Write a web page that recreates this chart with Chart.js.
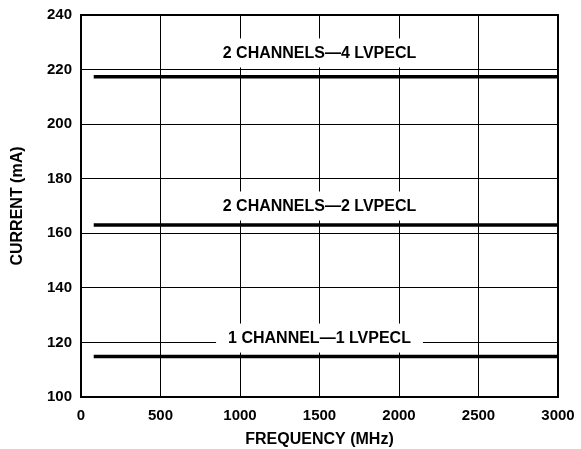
<!DOCTYPE html>
<html><head><meta charset="utf-8">
<script src="https://cdn.jsdelivr.net/npm/chart.js@4"></script>
<style>html,body{margin:0;padding:0;background:#fff;}#wrap{width:581px;height:449px;}</style>
</head><body><div id="wrap"><canvas id="c" width="581" height="449"></canvas></div>
<script>
const seriesNames = ["2 CHANNELS\u20144 LVPECL", "2 CHANNELS\u20142 LVPECL", "1 CHANNEL\u20141 LVPECL"];
const frequency = [80, 3000];
const current4 = [217.4, 217.4];
const current2 = [163.0, 163.0];
const current1 = [114.8, 114.8];
const labelX = [1500, 1500, 1500];
const labelY = [226.1, 170.0, 121.6];
const xTicks = [0, 500, 1000, 1500, 2000, 2500, 3000];
const yTicks = [100, 120, 140, 160, 180, 200, 220, 240];

const FONT = "'Liberation Sans', Arial, sans-serif";
const seriesValues = [current4, current2, current1];

const labelPlugin = {
  id: 'lineLabels',
  afterDatasetsDraw(chart) {
    const ctx = chart.ctx, xs = chart.scales.x, ys = chart.scales.y;
    ctx.save();
    ctx.font = "bold 16px " + FONT;
    ctx.textAlign = 'center';
    ctx.textBaseline = 'middle';
    seriesNames.forEach((name, i) => {
      const cx = xs.getPixelForValue(labelX[i]);
      const cy = ys.getPixelForValue(labelY[i]);
      const w = ctx.measureText(name).width;
      ctx.fillStyle = '#fff';
      ctx.fillRect(cx - w / 2 - 12, cy - 14.5, w + 24, 29);
      ctx.fillStyle = '#000';
      ctx.fillText(name, cx, cy + 0.5);
    });
    ctx.restore();
  },
  afterDraw(chart) {
    const ctx = chart.ctx, a = chart.chartArea;
    ctx.save();
    ctx.strokeStyle = '#000';
    ctx.lineWidth = 2;
    ctx.strokeRect(a.left, a.top, a.right - a.left, a.bottom - a.top);
    ctx.restore();
  }
};

function clearPad(s) {
  s.paddingTop = 0; s.paddingBottom = 0; s.paddingLeft = 0; s.paddingRight = 0;
}

new Chart(document.getElementById('c'), {
  type: 'line',
  data: {
    datasets: seriesValues.map((vals, i) => ({
      label: seriesNames[i],
      data: frequency.map((f, j) => ({ x: f, y: vals[j] })),
      borderColor: '#000',
      borderWidth: 3.5,
      pointRadius: 0,
      fill: false,
      tension: 0
    }))
  },
  options: {
    responsive: false,
    animation: false,
    layout: { padding: { left: 0, right: 23, top: 15, bottom: 0 } },
    plugins: { legend: { display: false }, tooltip: { enabled: false } },
    scales: {
      x: {
        type: 'linear', min: 0, max: 3000,
        afterBuildTicks: s => { s.ticks = xTicks.map(v => ({ value: v })); },
        afterFit: s => { s.height = 52; clearPad(s); },
        grid: { color: '#000', lineWidth: 1, drawTicks: false },
        border: { display: false },
        ticks: { color: '#000', padding: 10, font: { family: FONT, size: 15, weight: 'bold' }, maxRotation: 0, callback: v => String(v) },
        title: { display: true, text: 'FREQUENCY (MHz)', color: '#000', font: { family: FONT, size: 16, weight: 'bold' }, padding: { top: 4, bottom: 0 } }
      },
      y: {
        type: 'linear', min: 100, max: 240,
        afterBuildTicks: s => { s.ticks = yTicks.map(v => ({ value: v })); },
        afterFit: s => { s.width = 81; clearPad(s); },
        grid: { color: '#000', lineWidth: 1, drawTicks: false },
        border: { display: false },
        ticks: { color: '#000', padding: 9, font: { family: FONT, size: 15, weight: 'bold' }, callback: v => String(v) },
        title: { display: true, text: 'CURRENT (mA)', color: '#000', font: { family: FONT, size: 16, weight: 'bold' }, padding: { top: 8, bottom: 0 } }
      }
    }
  },
  plugins: [labelPlugin]
});
</script></body></html>
